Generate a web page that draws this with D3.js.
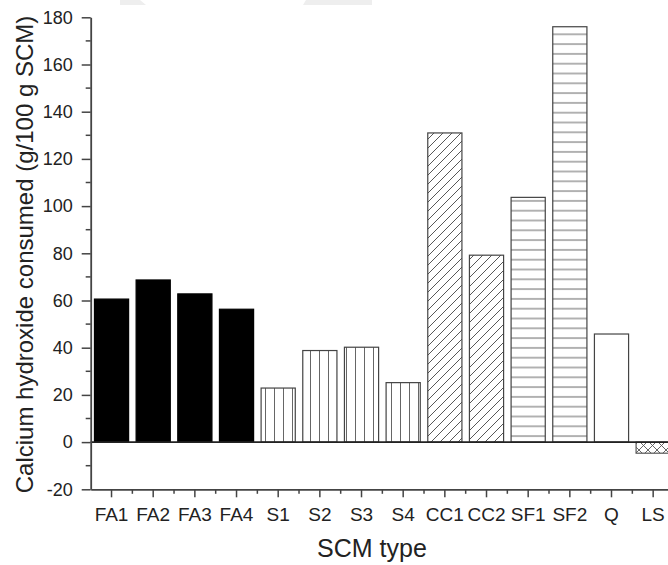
<!DOCTYPE html>
<html><head><meta charset="utf-8">
<script src="https://cdn.jsdelivr.net/npm/d3@7"></script>
<style>
body{margin:0;background:#fff}
svg{display:block;font-family:"Liberation Sans",Arial,Helvetica,sans-serif}
</style></head>
<body><svg id="c" width="668" height="565"></svg>
<script>
const categories=["FA1","FA2","FA3","FA4","S1","S2","S3","S4","CC1","CC2","SF1","SF2","Q","LS"];
const values=[60.6,68.7,62.8,56.3,22.9,38.8,40.2,25.2,131.0,79.2,103.7,176.0,45.8,-4.7];
const groups=["FA","FA","FA","FA","S","S","S","S","CC","CC","SF","SF","Q","LS"];
const yTicks=[-20,0,20,40,60,80,100,120,140,160,180];
const yMinor=[-10,10,30,50,70,90,110,130,150,170];
const xTitle="SCM type";
const yTitle="Calcium hydroxide consumed (g/100 g SCM)";

const svg=d3.select("#c");
const L=90.7,R=674,T=17.3,B=489.3;
const x=d3.scaleBand().domain(categories).range([L,R]).paddingInner(0.18).paddingOuter(0.09);
const y=d3.scaleLinear().domain([-20,180]).range([B,T]);

// faint artifacts at top
svg.append("polygon").attr("points","120,0 140,0 146,5 120,5").attr("fill","#eeeeee");
svg.append("polygon").attr("points","306,0 372,0 372,5 303,5").attr("fill","#eeeeee");

const defs=svg.append("defs");
let p=defs.append("pattern").attr("id","pS").attr("patternUnits","userSpaceOnUse").attr("width",9).attr("height",9);
p.append("line").attr("x1",4.5).attr("x2",4.5).attr("y1",0).attr("y2",9).attr("stroke","#666").attr("stroke-width",1);
p=defs.append("pattern").attr("id","pCC").attr("patternUnits","userSpaceOnUse").attr("width",9).attr("height",9);
p.append("path").attr("d","M0,9 L9,0 M-2,2 L2,-2 M7,11 L11,7").attr("stroke","#444").attr("stroke-width",0.9);
p=defs.append("pattern").attr("id","pSF").attr("patternUnits","userSpaceOnUse").attr("width",9.8).attr("height",9.8);
p.append("line").attr("x1",0).attr("x2",9.8).attr("y1",4.9).attr("y2",4.9).attr("stroke","#666").attr("stroke-width",1);
p=defs.append("pattern").attr("id","pLS").attr("patternUnits","userSpaceOnUse").attr("width",9).attr("height",9);
p.append("path").attr("d","M0,0 L9,9 M0,9 L9,0").attr("stroke","#555").attr("stroke-width",0.9);

const fillOf={FA:"#000",S:"url(#pS)",CC:"url(#pCC)",SF:"url(#pSF)",Q:"#fff",LS:"url(#pLS)"};
const strokeOf={FA:"#000",S:"#444",CC:"#444",SF:"#444",Q:"#444",LS:"#555"};

svg.append("g").selectAll("rect").data(categories).join("rect")
  .attr("x",d=>x(d))
  .attr("width",x.bandwidth())
  .attr("y",(d,i)=>y(Math.max(0,values[i])))
  .attr("height",(d,i)=>Math.abs(y(values[i])-y(0)))
  .attr("fill",(d,i)=>fillOf[groups[i]])
  .attr("stroke",(d,i)=>strokeOf[groups[i]])
  .attr("stroke-width",1.2);

svg.append("line").attr("x1",L).attr("x2",R).attr("y1",y(0)).attr("y2",y(0)).attr("stroke","#222").attr("stroke-width",1.6);

const axisColor="#444";
const ya=svg.append("g").attr("transform",`translate(${L},0)`)
  .call(d3.axisLeft(y).tickValues(yTicks).tickFormat(d=>String(d)).tickSize(9).tickSizeOuter(0).tickPadding(9));
ya.selectAll("line").attr("stroke",axisColor).attr("stroke-width",1.5);
ya.select(".domain").attr("stroke",axisColor).attr("stroke-width",1.8);
ya.selectAll("text").attr("font-size",18).attr("fill","#222").attr("font-family","Liberation Sans, Arial, sans-serif");
ya.selectAll(".minor").data(yMinor).join("line").attr("class","minor")
  .attr("x1",-5).attr("x2",0).attr("y1",d=>y(d)).attr("y2",d=>y(d)).attr("stroke",axisColor).attr("stroke-width",1.5);

const xa=svg.append("g").attr("transform",`translate(0,${B})`)
  .call(d3.axisBottom(x).tickSize(8).tickSizeOuter(0).tickPadding(10));
xa.selectAll("line").attr("stroke",axisColor).attr("stroke-width",1.5);
xa.select(".domain").attr("stroke",axisColor).attr("stroke-width",1.8);
xa.selectAll("text").attr("font-size",19).attr("fill","#222").attr("font-family","Liberation Sans, Arial, sans-serif");
const bounds=d3.range(1,categories.length+1).map(i=>L+x.step()*i);
xa.selectAll(".minor").data(bounds).join("line").attr("class","minor")
  .attr("x1",d=>d).attr("x2",d=>d).attr("y1",0).attr("y2",4.5).attr("stroke",axisColor).attr("stroke-width",1.5);

svg.append("text").attr("x",372).attr("y",557).attr("text-anchor","middle")
  .attr("font-size",25).attr("fill","#222").text(xTitle);
svg.append("text").attr("transform","translate(33,254.5) rotate(-90)").attr("text-anchor","middle")
  .attr("font-size",24).attr("fill","#222").text(yTitle);
</script></body></html>
